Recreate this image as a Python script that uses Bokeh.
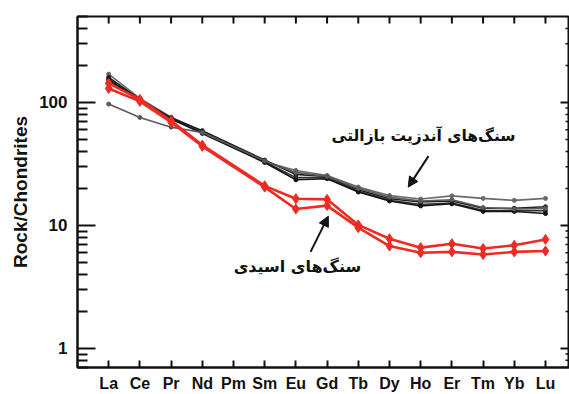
import math
from bokeh.plotting import figure
from bokeh.models import FixedTicker, Arrow, NormalHead, Label, Range1d, BasicTickFormatter
from bokeh.embed import file_html
from bokeh.resources import INLINE

# ---- data ----
tick_labels = ["La", "Ce", "Pr", "Nd", "Pm", "Sm", "Eu", "Gd", "Tb", "Dy", "Ho", "Er", "Tm", "Yb", "Lu"]
plotted = ["La", "Ce", "Pr", "Nd", "Sm", "Eu", "Gd", "Tb", "Dy", "Ho", "Er", "Tm", "Yb", "Lu"]

basalt_1 = [170, 108, 76, 58, 33, 28, 25.5, 20.5, 17.5, 16.4, 17.4, 16.6, 16.0, 16.6]
basalt_2 = [160, 106, 75, 59, 34, 26, 25, 19.5, 16.5, 15.5, 15.8, 13.8, 13.8, 14.2]
basalt_3 = [150, 104, 73, 57, 33, 24.5, 24.5, 19.0, 16.0, 14.8, 15.2, 13.3, 13.2, 13.2]
basalt_4 = [155, 103, 74, 56, 32.5, 23.5, 24, 18.7, 15.8, 14.4, 15.0, 13.0, 13.0, 12.5]
basalt_5 = [97, 75.5, 63, 57, 33.5, 27, 25, 20, 17, 15.8, 16.2, 14.0, 13.6, 13.8]
basalt_series = [basalt_1, basalt_2, basalt_3, basalt_4, basalt_5]
basalt_colors = ["#6a6a6a", "#1e1e1e", "#2e2e2e", "#141414", "#5a5a5a"]

acid_1 = [143, 106, 71, 45, 21, 16.5, 16.3, 10.1, 7.8, 6.6, 7.1, 6.5, 6.9, 7.7]
acid_2 = [130, 102, 69, 44, 20.5, 13.6, 14.5, 9.6, 6.8, 6.0, 6.1, 5.8, 6.1, 6.2]
acid_series = [acid_1, acid_2]

y_major = [1, 10, 100]
y_minor = [0.7, 0.8, 0.9, 2, 3, 4, 5, 6, 7, 8, 9, 20, 30, 40, 50, 60, 70, 80, 90, 200, 300, 400, 500]

label_basalt = "سنگ‌های آندزیت بازالتی"
label_acid = "سنگ‌های اسیدی"

# ---- figure ----
X_MAX = 15.77
Y_MIN, Y_MAX = 0.7, 500
pos = {name: i + 1 for i, name in enumerate(tick_labels)}
xs = [pos[n] for n in plotted]
cat_x = list(range(1, len(tick_labels) + 1))

p = figure(width=569, height=394, y_axis_type="log",
           x_range=Range1d(0, X_MAX), y_range=Range1d(Y_MIN, Y_MAX),
           output_backend="svg", toolbar_location=None,
           min_border_left=77, min_border_right=0, min_border_top=16, min_border_bottom=26)
p.xgrid.visible = False
p.ygrid.visible = False
p.outline_line_color = "#111111"
p.outline_line_width = 2
p.background_fill_color = "white"
p.border_fill_color = "white"

FONT = "Liberation Sans"

# bottom axis
xa = p.xaxis[0]
xa.ticker = FixedTicker(ticks=cat_x)
xa.major_label_overrides = {i + 1: t for i, t in enumerate(tick_labels)}
xa.major_tick_in = 7
xa.major_tick_out = 0
xa.minor_tick_line_color = None
xa.axis_line_width = 2
xa.axis_line_color = "#111111"
xa.major_tick_line_width = 2
xa.major_tick_line_color = "#111111"
xa.major_label_text_font = FONT
xa.major_label_text_font_style = "bold"
xa.major_label_text_font_size = "16px"
xa.major_label_text_color = "#111111"
xa.major_label_standoff = 7

# left axis
ya = p.yaxis[0]
ya.ticker = FixedTicker(ticks=y_major, minor_ticks=y_minor)
ya.formatter = BasicTickFormatter()
ya.major_tick_in = 18
ya.major_tick_out = 0
ya.minor_tick_in = 10
ya.minor_tick_out = 0
ya.axis_line_width = 2
ya.axis_line_color = "#111111"
ya.major_tick_line_width = 2
ya.minor_tick_line_width = 2
ya.major_tick_line_color = "#111111"
ya.minor_tick_line_color = "#111111"
ya.major_label_text_font = FONT
ya.major_label_text_font_style = "bold"
ya.major_label_text_font_size = "17px"
ya.major_label_text_color = "#111111"
ya.major_label_standoff = 10
ya.axis_label = "Rock/Chondrites"
ya.axis_label_text_font = FONT
ya.axis_label_text_font_style = "bold"
ya.axis_label_text_font_size = "19px"
ya.axis_label_text_color = "#111111"
ya.axis_label_standoff = 5

# inward ticks along the top and right frame edges
p.ray(x=cat_x, y=[Y_MAX] * len(cat_x), length=7, length_units="screen",
      angle=-math.pi / 2, line_color="#111111", line_width=2)
p.ray(x=[X_MAX] * len(y_major), y=y_major, length=9, length_units="screen",
      angle=math.pi, line_color="#111111", line_width=2)
p.ray(x=[X_MAX] * len(y_minor), y=y_minor, length=4, length_units="screen",
      angle=math.pi, line_color="#111111", line_width=1.5)

# ---- series ----
for ys, c in zip(basalt_series, basalt_colors):
    p.line(xs, ys, line_color=c, line_width=1.6)
    p.scatter(xs, ys, marker="circle", size=4, fill_color=c, line_color=c)

RED = "#ee2b23"
for ys in acid_series:
    p.line(xs, ys, line_color=RED, line_width=2.6)
    p.scatter(xs, ys, marker="diamond", size=10, fill_color=RED, line_color=RED)

# ---- annotations ----
p.add_layout(Label(x=11.09, y=53, text=label_basalt, text_align="center", text_baseline="middle",
                   text_font="DejaVu Sans", text_font_style="bold", text_font_size="15.5px",
                   text_color="#111111"))
p.add_layout(Arrow(end=NormalHead(size=10, fill_color="#111111", line_color="#111111"),
                   x_start=11.25, y_start=36.6, x_end=10.6, y_end=20.5,
                   line_color="#111111", line_width=2))

p.add_layout(Label(x=7.05, y=4.6, text=label_acid, text_align="center", text_baseline="middle",
                   text_font="DejaVu Sans", text_font_style="bold", text_font_size="16px",
                   text_color="#111111"))
p.add_layout(Arrow(end=NormalHead(size=10, fill_color="#111111", line_color="#111111"),
                   x_start=7.47, y_start=6.1, x_end=8.04, y_end=11.9,
                   line_color="#111111", line_width=2))

open("out.html", "w").write(file_html(p, INLINE))
